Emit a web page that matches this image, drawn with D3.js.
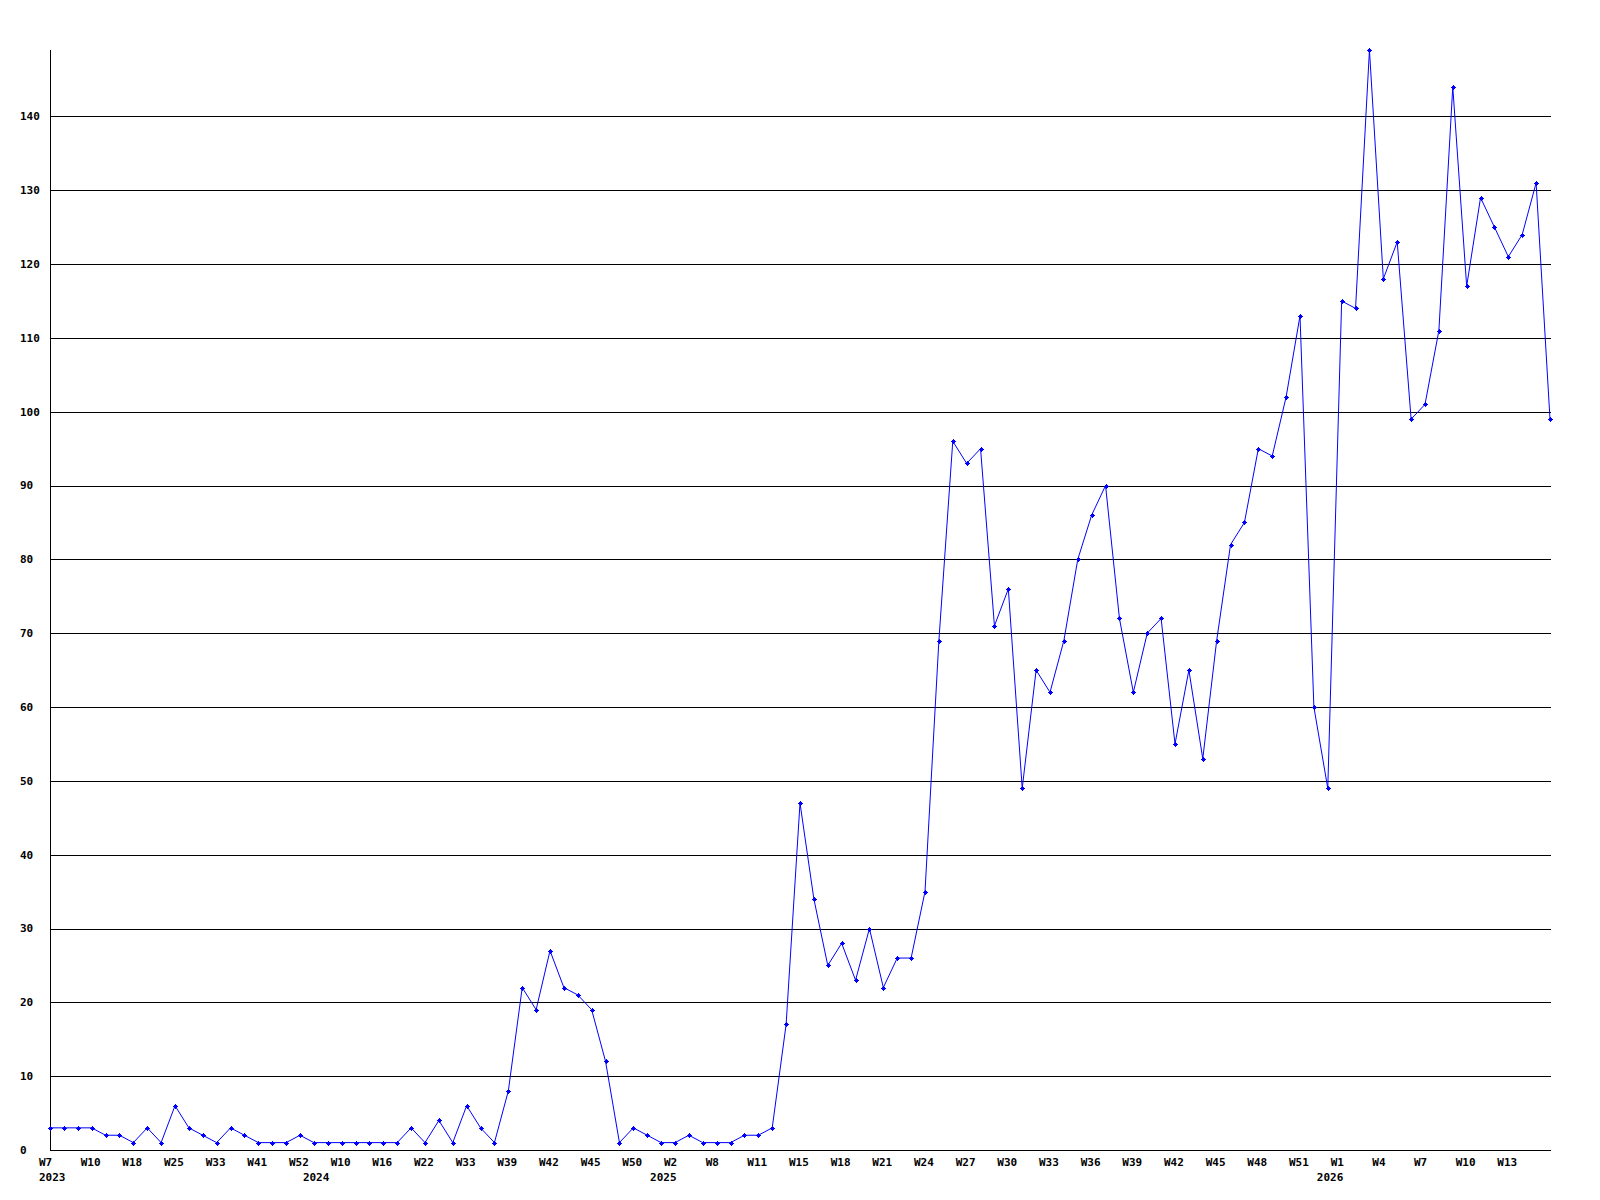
<!DOCTYPE html>
<html>
<head>
<meta charset="utf-8">
<script src="https://cdn.jsdelivr.net/npm/d3@7"></script>
<style>
  body { margin: 0; background: #fff; }
  svg text { font-family: "DejaVu Sans Mono", monospace; font-weight: bold; font-size: 11px; fill: #000; }
</style>
</head>
<body>
<div id="chart"></div>
<script>
// valores semanales, uno por punto
const values = [
  3, 3, 3, 3, 2, 2, 1, 3, 1, 6,
  3, 2, 1, 3, 2, 1, 1, 1, 2, 1,
  1, 1, 1, 1, 1, 1, 3, 1, 4, 1,
  6, 3, 1, 8, 22, 19, 27, 22, 21, 19,
  12, 1, 3, 2, 1, 1, 2, 1, 1, 1,
  2, 2, 3, 17, 47, 34, 25, 28, 23, 30,
  22, 26, 26, 35, 69, 96, 93, 95, 71, 76,
  49, 65, 62, 69, 80, 86, 90, 72, 62, 70,
  72, 55, 65, 53, 69, 82, 85, 95, 94, 102,
  113, 60, 49, 115, 114, 149, 118, 123, 99, 101,
  111, 144, 117, 129, 125, 121, 124, 131, 99
];

// etiquetas de semana (cada 3 puntos)
const weekLabels = [
  "W7", "W10", "W18", "W25", "W33", "W41", "W52", "W10", "W16", "W22",
  "W33", "W39", "W42", "W45", "W50", "W2", "W8", "W11", "W15", "W18",
  "W21", "W24", "W27", "W30", "W33", "W36", "W39", "W42", "W45", "W48",
  "W51", "W1", "W4", "W7", "W10", "W13"
];
const weekEvery = 3;

// etiquetas de año y el índice del punto donde empiezan
const yearLabels = ["2023", "2024", "2025", "2026"];
const yearIndex = [0, 19, 44, 92];

const yTicks = [0, 10, 20, 30, 40, 50, 60, 70, 80, 90, 100, 110, 120, 130, 140];

const width = 1600, height = 1200;
const plotLeft = 50, plotRight = 1550, plotTop = 50, plotBottom = 1150;

const svg = d3.select("#chart").append("svg")
  .attr("width", width)
  .attr("height", height);

const x = d3.scaleLinear().domain([0, values.length - 1]).range([plotLeft, plotRight]);
const y = d3.scaleLinear().domain([0, d3.max(values)]).range([plotBottom, plotTop]);

// líneas de la cuadrícula
svg.append("g")
  .selectAll("line")
  .data(yTicks.filter(d => d > 0))
  .enter().append("line")
  .attr("x1", plotLeft).attr("x2", plotRight + 1)
  .attr("y1", d => Math.round(y(d)) + 0.5)
  .attr("y2", d => Math.round(y(d)) + 0.5)
  .attr("stroke", "#000")
  .attr("stroke-width", 1);

// ejes
svg.append("line")
  .attr("x1", plotLeft + 0.5).attr("x2", plotLeft + 0.5)
  .attr("y1", plotTop).attr("y2", plotBottom + 1)
  .attr("stroke", "#000");
svg.append("line")
  .attr("x1", plotLeft).attr("x2", plotRight + 1)
  .attr("y1", plotBottom + 0.5).attr("y2", plotBottom + 0.5)
  .attr("stroke", "#000");

// etiquetas del eje Y
svg.append("g")
  .selectAll("text")
  .data(yTicks)
  .enter().append("text")
  .attr("x", 20)
  .attr("y", d => y(d))
  .attr("dy", "0.35em")
  .text(d => d);

// etiquetas de semana
svg.append("g")
  .selectAll("text")
  .data(weekLabels)
  .enter().append("text")
  .attr("x", (d, i) => x(i * weekEvery) - 11)
  .attr("y", 1166)
  .text(d => d);

// etiquetas de año
svg.append("g")
  .selectAll("text")
  .data(yearLabels)
  .enter().append("text")
  .attr("x", (d, i) => x(yearIndex[i]) - 11)
  .attr("y", 1181)
  .text(d => d);

// línea de datos
const line = d3.line()
  .x((d, i) => x(i))
  .y(d => y(d));

svg.append("path")
  .datum(values)
  .attr("fill", "none")
  .attr("stroke", "#0000ff")
  .attr("stroke-width", 1)
  .attr("d", line);

// marcadores
const markers = svg.append("g")
  .selectAll("g")
  .data(values)
  .enter().append("g")
  .attr("transform", (d, i) => `translate(${Math.round(x(i)) + 0.5},${Math.round(y(d)) + 0.5})`);

markers.append("path")
  .attr("d", "M-2.5,0H2.5M0,-2.5V2.5")
  .attr("stroke", "#0000ff")
  .attr("stroke-width", 1);
markers.append("rect")
  .attr("x", -1.5).attr("y", -1.5)
  .attr("width", 3).attr("height", 3)
  .attr("fill", "#0000ff");
</script>
</body>
</html>
